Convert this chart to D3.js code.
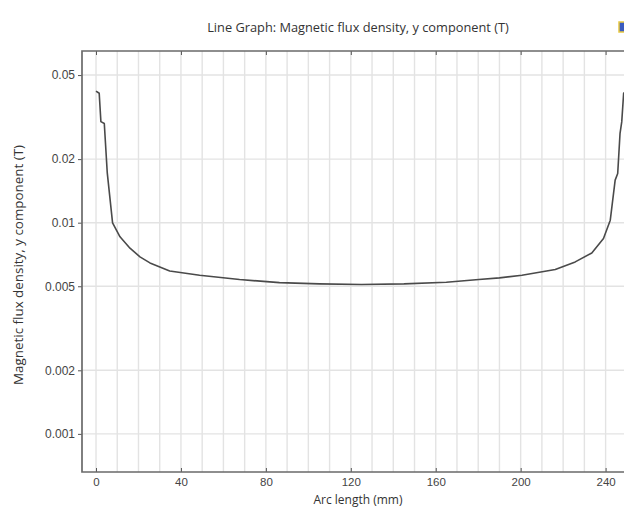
<!DOCTYPE html>
<html>
<head>
<meta charset="utf-8">
<script src="https://cdn.jsdelivr.net/npm/d3@7"></script>
<style>
  body { margin: 0; background: #fff; }
  svg { display: block; font-family: "Open Sans", "DejaVu Sans", sans-serif; }
  .tick text { fill: #444; font-size: 12px; }
  .xaxis .tick text { font-size: 11.5px; }
  .grid line { stroke: #e3e3e3; stroke-width: 1.4; }
</style>
</head>
<body>
<svg id="chart" width="624" height="508"></svg>
<script>
const title = "Line Graph: Magnetic flux density, y component (T)";
const xLabel = "Arc length (mm)";
const yLabel = "Magnetic flux density, y component (T)";

const arcLength = [0, 1.5, 2.3, 3.9, 5.3, 7.8, 11.3, 16, 20.7, 25.4, 34.7, 48.8, 67.6, 86.4, 105.2, 125,
  145, 165, 180.3, 190, 200.6, 216.3, 225.7, 233.5, 239, 242.2, 244.5, 245.7, 246.8, 247.6, 248.5, 250];
const fluxY = [0.042, 0.041, 0.0301, 0.0295, 0.0172, 0.00998, 0.00857, 0.00757, 0.00689, 0.00645, 0.00591,
  0.00564, 0.00538, 0.0052, 0.00513, 0.0051, 0.00513, 0.00522, 0.00538, 0.00548, 0.00564, 0.006, 0.00652,
  0.00719, 0.00841, 0.01028, 0.0159, 0.0171, 0.0265, 0.030, 0.041, 0.042];

const xTicks = [0, 40, 80, 120, 160, 200, 240];
const xMinor = d3.range(-10, 260, 10);
const yTicks = [0.001, 0.002, 0.005, 0.01, 0.02, 0.05];
const yTickLabels = ["0.001", "0.002", "0.005", "0.01", "0.02", "0.05"];

const svg = d3.select("#chart");
const mLeft = 82, mTop = 51, mBottom = 472, mRight = 640;

const x = d3.scaleLinear().domain([-6.6, 256.2]).range([mLeft, mRight]);
const y = d3.scaleLog().domain([0.00066, 0.065]).range([mBottom, mTop]);

svg.append("clipPath").attr("id", "plot")
  .append("rect").attr("x", mLeft).attr("y", mTop).attr("width", mRight - mLeft).attr("height", mBottom - mTop);

// grid
const grid = svg.append("g").attr("class", "grid").attr("clip-path", "url(#plot)");
grid.selectAll(".vx").data(xMinor).join("line")
  .attr("x1", d => x(d)).attr("x2", d => x(d)).attr("y1", mTop).attr("y2", mBottom);
grid.selectAll(".hy").data(yTicks).join("line")
  .attr("x1", mLeft).attr("x2", mRight).attr("y1", d => y(d)).attr("y2", d => y(d));

// curve
const line = d3.line().x((d, i) => x(arcLength[i])).y(d => y(d));
svg.append("path")
  .datum(fluxY)
  .attr("clip-path", "url(#plot)")
  .attr("fill", "none")
  .attr("stroke", "#4a4a4a")
  .attr("stroke-width", 1.6)
  .attr("stroke-linejoin", "round")
  .attr("d", line);

// axes
svg.append("g")
  .attr("class", "xaxis")
  .attr("transform", `translate(0,${mBottom})`)
  .call(d3.axisBottom(x).tickValues(xTicks).tickSizeInner(-4).tickSizeOuter(0).tickPadding(6))
  .call(g => g.select(".domain").remove())
  .call(g => g.selectAll(".tick line").attr("stroke", "#555"));

svg.append("g")
  .attr("transform", `translate(0,${mTop})`)
  .call(d3.axisTop(x).tickValues(xTicks).tickSizeInner(-4).tickSizeOuter(0).tickFormat(""))
  .call(g => g.select(".domain").remove())
  .call(g => g.selectAll(".tick line").attr("stroke", "#555"));

svg.append("g")
  .attr("transform", `translate(${mLeft},0)`)
  .call(d3.axisLeft(y).tickValues(yTicks).tickFormat((d, i) => yTickLabels[i]).tickSizeInner(4).tickSizeOuter(0).tickPadding(3))
  .call(g => g.select(".domain").remove())
  .call(g => g.selectAll(".tick line").attr("stroke", "#555"));

// frame
svg.append("path")
  .attr("d", `M${mRight},${mTop}H${mLeft}V${mBottom}H${mRight}`)
  .attr("fill", "none")
  .attr("stroke", "#6a6a6a")
  .attr("stroke-width", 1.7);

// labels
svg.append("text")
  .attr("x", 358).attr("y", 32)
  .attr("text-anchor", "middle")
  .attr("font-size", 12.8)
  .attr("fill", "#333")
  .text(title);

svg.append("text")
  .attr("x", 358).attr("y", 503.5)
  .attr("text-anchor", "middle")
  .attr("font-size", 12)
  .attr("fill", "#333")
  .text(xLabel);

svg.append("text")
  .attr("transform", "translate(23,265) rotate(-90)")
  .attr("text-anchor", "middle")
  .attr("font-size", 13.4)
  .attr("fill", "#333")
  .text(yLabel);

// toolbar icon fragment at top right
svg.append("rect")
  .attr("x", 619).attr("y", 22).attr("width", 8).attr("height", 10)
  .attr("fill", "#3a5bbf").attr("stroke", "#e8c840").attr("stroke-width", 1.5);
</script>
</body>
</html>
